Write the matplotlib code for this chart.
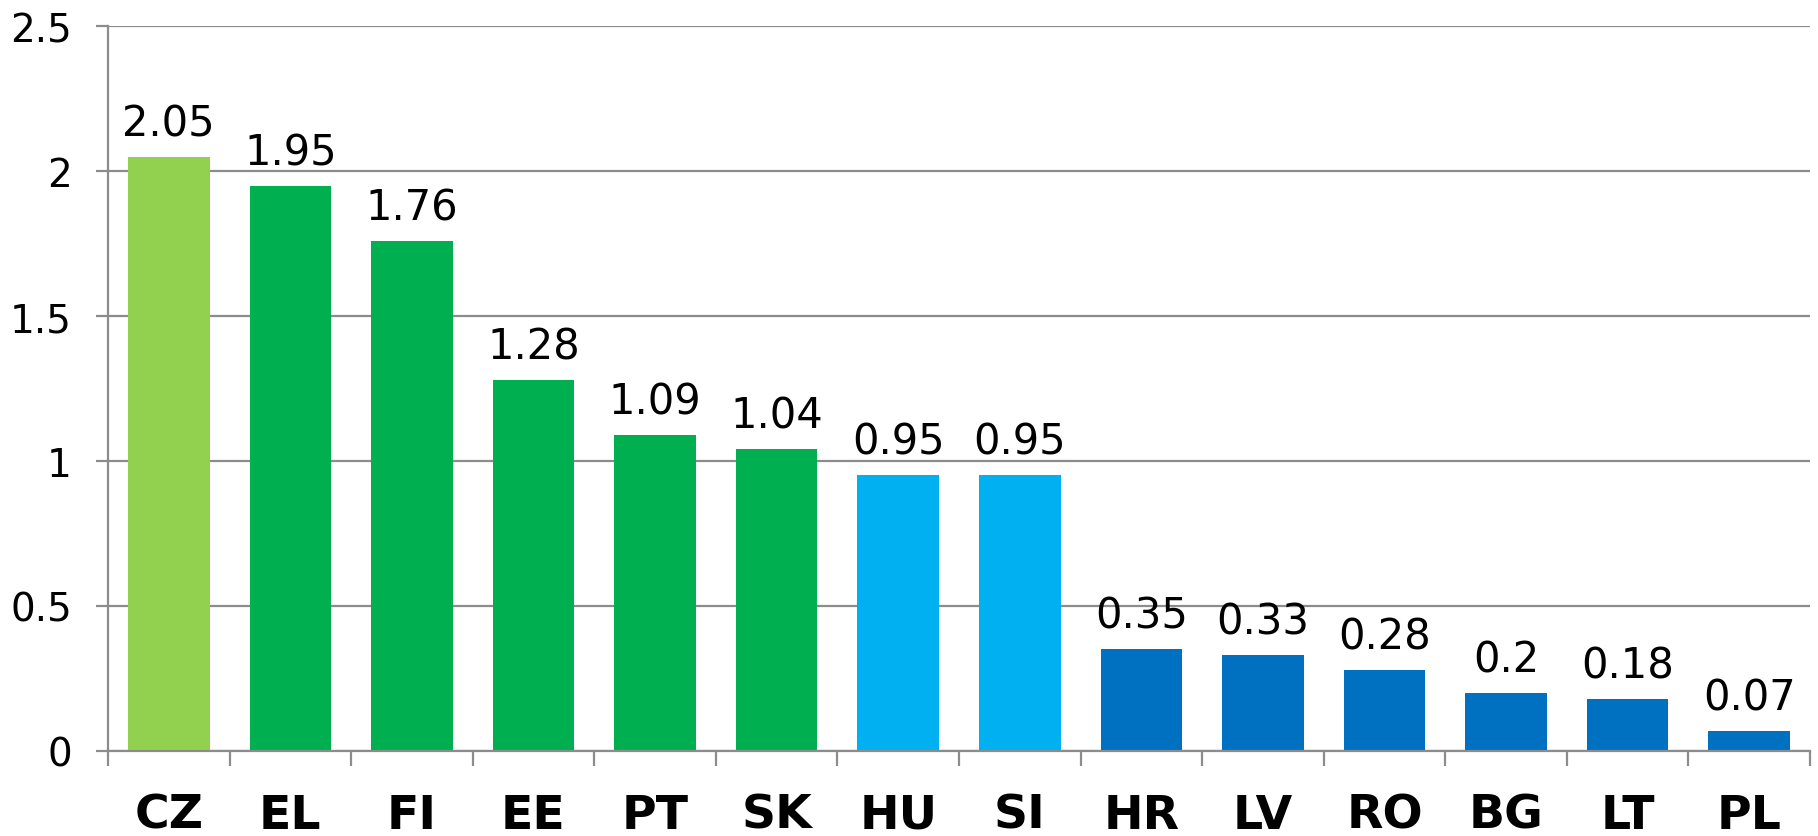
import numpy as np
import matplotlib
matplotlib.use("Agg")
import matplotlib.pyplot as plt

countries = ['CZ', 'EL', 'FI', 'EE', 'PT', 'SK', 'HU', 'SI', 'HR', 'LV', 'RO', 'BG', 'LT', 'PL']
values = [2.05, 1.95, 1.76, 1.28, 1.09, 1.04, 0.95, 0.95, 0.35, 0.33, 0.28, 0.2, 0.18, 0.07]
labels = ['2.05', '1.95', '1.76', '1.28', '1.09', '1.04', '0.95', '0.95', '0.35', '0.33', '0.28', '0.2', '0.18', '0.07']
colors = ['#92D050'] + ['#00B050'] * 5 + ['#00B0F0'] * 2 + ['#0070C0'] * 6

plt.rcParams['font.family'] = ['DejaVu Sans']
grid_col = '#8c8c8c'

fig = plt.figure(figsize=(18.18, 8.37), dpi=100)
ax = fig.add_axes([0.0594, 0.1016, 0.9362, 0.8661])

x = np.arange(len(countries))
ax.bar(x, values, width=0.67, color=colors, zorder=3)

for xi, v, lab in zip(x, values, labels):
    ax.annotate(lab, (xi, v), xytext=(0, 9), textcoords='offset points',
                ha='center', va='bottom', fontsize=30, color='black', zorder=4)

ax.set_xlim(-0.5, len(countries) - 0.5)
ax.set_ylim(0, 2.5)
ax.set_yticks([0, 0.5, 1, 1.5, 2, 2.5])
ax.set_yticklabels(['0', '0.5', '1', '1.5', '2', '2.5'])
ax.yaxis.grid(True, color=grid_col, linewidth=1.6, zorder=0)
ax.tick_params(axis='y', length=9, width=1.6, color=grid_col, pad=17, labelsize=28)

ax.set_xticks(x)
ax.set_xticklabels(countries, fontsize=34, fontweight='bold')
ax.set_xticks(np.arange(-0.5, len(countries)), minor=True)
ax.tick_params(axis='x', which='major', length=0, pad=30)
ax.tick_params(axis='x', which='minor', length=11, width=1.6, color=grid_col)

for s in ['top', 'right']:
    ax.spines[s].set_visible(False)
for s in ['left', 'bottom']:
    ax.spines[s].set_color(grid_col)
    ax.spines[s].set_linewidth(1.6)
    ax.spines[s].set_zorder(5)

fig.savefig('out.png', dpi=100)
